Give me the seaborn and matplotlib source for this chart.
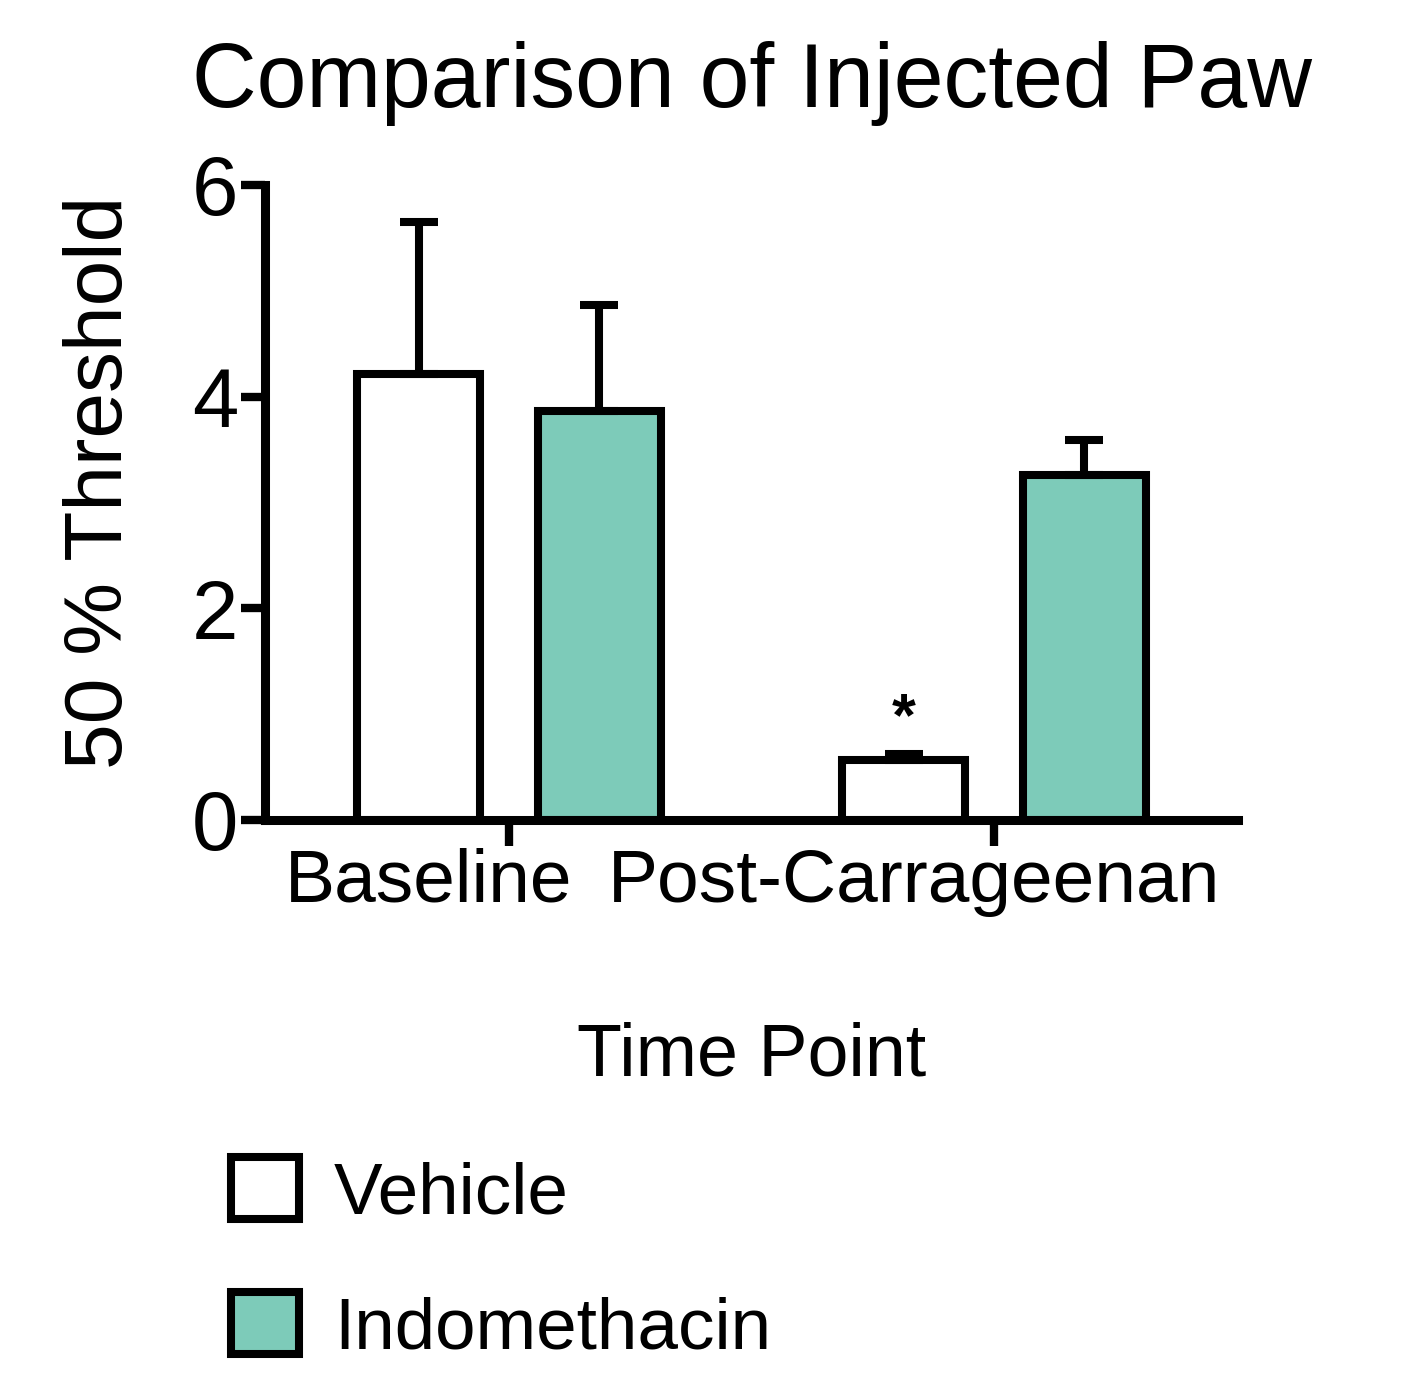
import pandas as pd
import matplotlib.pyplot as plt
import seaborn as sns
from matplotlib.patches import Patch
from matplotlib.transforms import ScaledTranslation

time_points = ["Baseline", "Post-Carrageenan"]
groups = ["Vehicle", "Indomethacin"]
vehicle_mean = [4.21, 0.57]
vehicle_sem = [1.44, 0.05]
indo_mean = [3.86, 3.26]
indo_sem = [1.01, 0.33]

df = pd.DataFrame({
    "time": time_points * 2,
    "group": ["Vehicle"] * 2 + ["Indomethacin"] * 2,
    "mean": vehicle_mean + indo_mean,
    "sem": vehicle_sem + indo_sem,
})

palette = {"Vehicle": "white", "Indomethacin": "#7DCBB9"}

sns.set_style("ticks")
plt.rcParams["font.family"] = ["Liberation Sans", "DejaVu Sans"]
plt.rcParams.update({
    "text.color": "black",
    "axes.labelcolor": "black",
    "axes.edgecolor": "black",
    "xtick.color": "black",
    "ytick.color": "black",
})

fig = plt.figure(figsize=(14.25, 13.84), dpi=100)
ax = fig.add_axes([265 / 1425, 1 - 820 / 1384, 973 / 1425, 635 / 1384])

sns.barplot(
    data=df,
    x="time",
    y="mean",
    hue="group",
    hue_order=groups,
    order=time_points,
    palette=palette,
    saturation=1,
    edgecolor="black",
    linewidth=5.8,
    width=0.746,
    gap=0.32,
    errorbar=None,
    legend=False,
    ax=ax,
)

# one-sided (upper) error bars
for container, name in zip(ax.containers, groups):
    sub = df[df["group"] == name].set_index("time").loc[time_points]
    xs = [b.get_x() + b.get_width() / 2 for b in container]
    hs = [b.get_height() for b in container]
    ax.errorbar(
        xs, hs,
        yerr=[[0] * len(xs), sub["sem"].tolist()],
        fmt="none", ecolor="black", elinewidth=5.8,
        capsize=13.5, capthick=5.8, zorder=1,
    )
    if name == "Vehicle":
        # significance mark over post-carrageenan vehicle
        i = time_points.index("Post-Carrageenan")
        ax.text(xs[i], hs[i] + sub["sem"].iloc[i] + 0.06, "*",
                ha="center", va="bottom", fontsize=44, fontweight="bold")

ax.set_xlim(-0.503, 1.503)
ax.set_ylim(0, 6)
ax.set_yticks([0, 2, 4, 6])

for side in ["top", "right"]:
    ax.spines[side].set_visible(False)
for side in ["left", "bottom"]:
    ax.spines[side].set_linewidth(6.5)
    ax.spines[side].set_capstyle("projecting")

ax.tick_params(axis="y", length=17, width=6, pad=2, labelsize=60)
ax.tick_params(axis="x", length=19, width=6, pad=1, labelsize=54)

# labels sit left of their ticks, as in the original
for lab in ax.get_xticklabels():
    lab.set_transform(lab.get_transform() + ScaledTranslation(-0.8, 0, fig.dpi_scale_trans))

ax.set_title("Comparison of Injected Paw", fontsize=64.5, pad=56)
ax.set_xlabel("Time Point", fontsize=53)
ax.xaxis.set_label_coords(0.5, -0.318)
ax.set_ylabel("50 % Threshold", fontsize=59)
ax.yaxis.set_label_coords(-0.13, 0.532)

handles = [Patch(facecolor=palette[g], edgecolor="black", linewidth=5.8, label=g)
           for g in groups]
fig.legend(
    handles=handles,
    loc="upper left",
    bbox_to_anchor=(231 / 1425, 1 - 1157 / 1384),
    frameon=False,
    fontsize=52.5,
    handlelength=0.93,
    handleheight=0.93,
    handletextpad=0.48,
    labelspacing=0.88,
    borderpad=0,
    borderaxespad=0,
)

plt.savefig("out.png", dpi=100)
